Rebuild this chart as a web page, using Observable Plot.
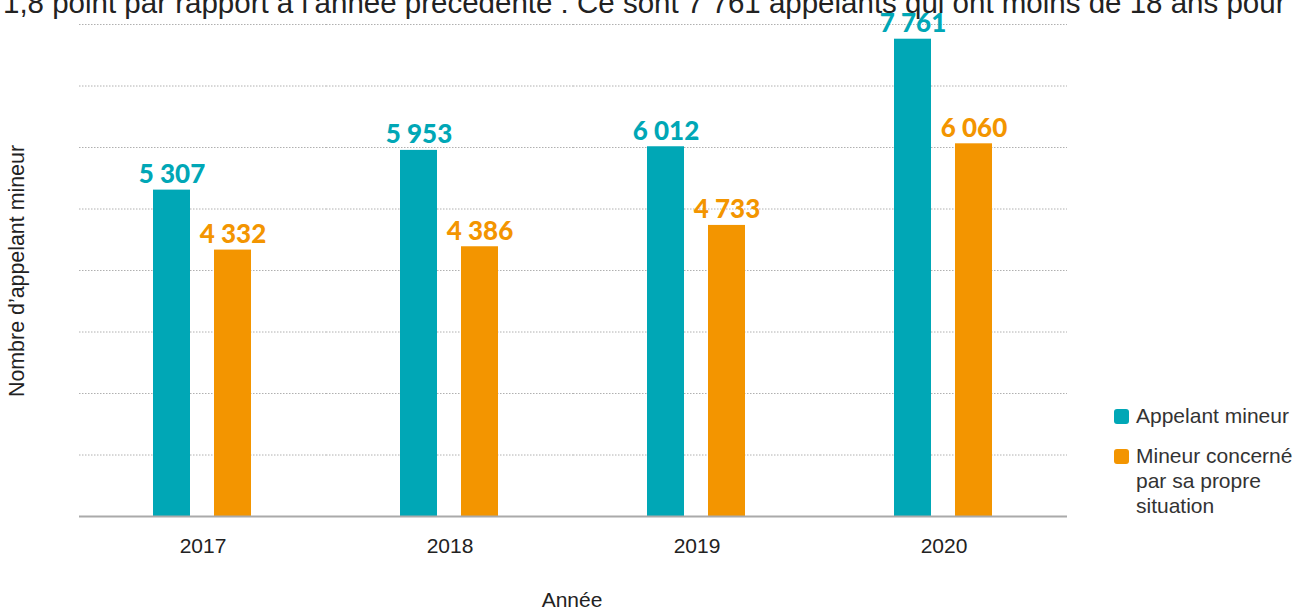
<!DOCTYPE html>
<html>
<head>
<meta charset="utf-8">
<script src="https://cdn.jsdelivr.net/npm/d3@7"></script>
<script src="https://cdn.jsdelivr.net/npm/@observablehq/plot@0.6"></script>
<style>
  html, body { margin: 0; padding: 0; background: #fff; }
  #wrap { position: relative; width: 1298px; height: 610px; overflow: hidden; font-family: "Liberation Sans", Arial, sans-serif; color: #222; }
  .abs { position: absolute; white-space: nowrap; }
  .sw { position: absolute; width: 15px; height: 15px; border-radius: 3px; }
</style>
</head>
<body>
<div id="wrap"></div>
<script>
const years = ["2017", "2018", "2019", "2020"];
const series = ["Appelant mineur", "Mineur concerné par sa propre situation"];
const appelant = [5307, 5953, 6012, 7761];
const concerne = [4332, 4386, 4733, 6060];
const yTicks = [0, 1000, 2000, 3000, 4000, 5000, 6000, 7000, 8000];
const colors = ["#00a7b6", "#f39500"];
const topText = "1,8 point par rapport à l’année précédente : Ce sont 7 761 appelants qui ont moins de 18 ans pour";
const yLabel = "Nombre d’appelant mineur";
const xLabel = "Année";

const table = years.flatMap((yr, i) => [
  {year: yr, serie: series[0], value: appelant[i]},
  {year: yr, serie: series[1], value: concerne[i]}
]);
const fmt = d3.formatLocale({decimal: ",", thousands: " ", grouping: [3]}).format(",d");

const chart = Plot.plot({
  width: 1298,
  height: 610,
  marginLeft: 77,
  marginRight: 230,
  marginTop: 24,
  marginBottom: 94,
  style: {fontFamily: "Liberation Sans, Arial, sans-serif", background: "transparent"},
  fx: {domain: years, padding: 0, label: null},
  x: {domain: series, paddingInner: 0.387, paddingOuter: 1.19, axis: null},
  y: {domain: [0, 8000], axis: null},
  color: {domain: series, range: colors},
  marks: [
    Plot.gridY(yTicks, {stroke: "#b0b0b0", strokeOpacity: 1, strokeDasharray: "1.5,1.5"}),
    Plot.barY(table, {fx: "year", x: "serie", y: "value", fill: "serie"}),
    Plot.text(table, {fx: "year", x: "serie", y: "value", text: d => fmt(d.value), fill: "serie",
      dy: -7, lineAnchor: "bottom", fontSize: 26, fontWeight: 900, fontFamily: "Lato, sans-serif"}),
    Plot.ruleY([0], {stroke: "#aaaaaa", strokeWidth: 2}),
    Plot.axisFx({anchor: "bottom", tickSize: 0, tickPadding: 22, fontSize: 21, label: null,
      fontFamily: "Liberation Sans, sans-serif", fill: "#222"})
  ]
});

const wrap = document.getElementById("wrap");
wrap.appendChild(chart);
chart.style.position = "absolute";
chart.style.left = "0px";
chart.style.top = "0px";

function addText(txt, css) {
  const d = document.createElement("div");
  d.className = "abs";
  d.textContent = txt;
  Object.assign(d.style, css);
  wrap.appendChild(d);
  return d;
}
addText(topText, {left: "3px", top: "-12px", fontSize: "29.5px", lineHeight: "29.5px"});
addText(yLabel, {left: "17.7px", top: "271px", fontSize: "21.4px", lineHeight: "21.4px",
  transform: "translate(-50%, -50%) rotate(-90deg)"});
addText(xLabel, {left: "572px", top: "589px", fontSize: "21px", lineHeight: "21px", transform: "translateX(-50%)"});

// legend
const legendTops = [409, 449];
const legendLines = [["Appelant mineur"], ["Mineur concerné", "par sa propre", "situation"]];
series.forEach((s, i) => {
  const sw = document.createElement("div");
  sw.className = "sw";
  sw.style.left = "1114px";
  sw.style.top = legendTops[i] + "px";
  sw.style.background = colors[i];
  wrap.appendChild(sw);
  const t = addText("", {left: "1136px", top: (legendTops[i] - 6) + "px", fontSize: "21px", lineHeight: "25px", color: "#333"});
  t.innerHTML = legendLines[i].join("<br>");
});
</script>
</body>
</html>
